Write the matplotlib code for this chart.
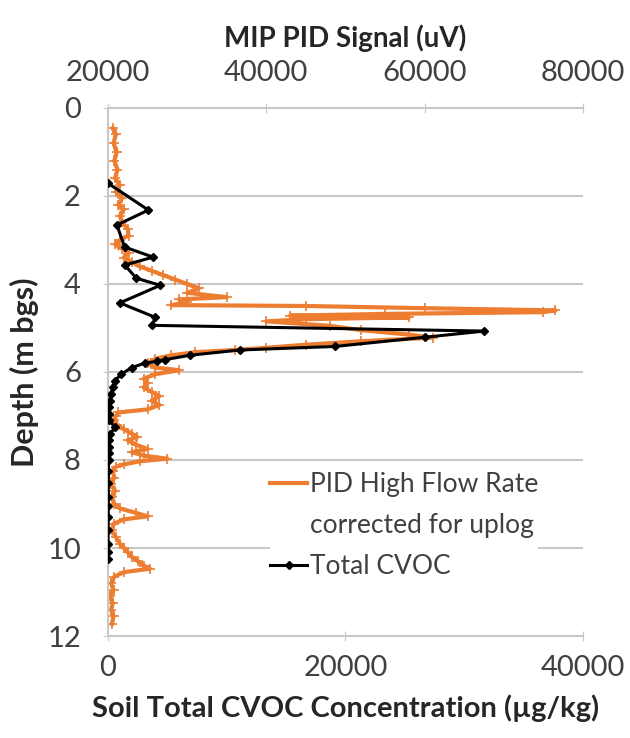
import matplotlib.pyplot as plt
from matplotlib.lines import Line2D

plt.rcParams['font.family'] = ['Lato', 'DejaVu Sans']

# PID signal (top axis, uV) vs depth (m bgs)
pid_depth = [0.46, 0.6, 0.8, 1.0, 1.2, 1.4, 1.6, 1.75, 1.9, 2.05, 2.2, 2.3, 2.45, 2.6,
             2.75, 2.9, 3.0, 3.1, 3.2, 3.3, 3.4, 3.5, 3.6, 3.7, 3.8, 3.9, 4.0, 4.1,
             4.2, 4.3, 4.35, 4.42, 4.48, 4.5, 4.55, 4.6, 4.64, 4.68, 4.72, 4.76, 4.8,
             4.85, 4.95, 5.05, 5.15, 5.22, 5.3, 5.38, 5.45, 5.5, 5.55, 5.62, 5.7, 5.8,
             5.9, 5.96, 6.05, 6.15, 6.25, 6.35, 6.45, 6.55, 6.65, 6.75, 6.85, 6.92,
             7.0, 7.1, 7.2, 7.3, 7.4, 7.48, 7.55, 7.65, 7.75, 7.82, 7.9, 7.97, 8.03,
             8.1, 8.15, 8.25, 8.4, 8.55, 8.7, 8.85, 9.0, 9.1, 9.2, 9.28, 9.35, 9.45,
             9.6, 9.75, 9.9, 10.0, 10.1, 10.2, 10.3, 10.4, 10.47, 10.55, 10.65, 10.8,
             10.95, 11.1, 11.25, 11.4, 11.55, 11.72]
pid_signal = [20600, 21000, 20700, 21100, 20800, 21200, 20900, 21500, 21000, 21800,
              21300, 22000, 21500, 21800, 22500, 22600, 21500, 20900, 21800, 22600,
              22000, 23000, 24000, 25500, 27000, 28500, 30000, 31500, 30000, 35000,
              29000, 30000, 28000, 45000, 60000, 76500, 75000, 55000, 43000, 58000,
              45000, 40000, 48000, 52000, 58000, 61000, 52000, 45000, 40000, 36000,
              31000, 28000, 26000, 25000, 26000, 29000, 26000, 24500, 25000, 24500,
              25500, 26500, 25500, 26500, 25000, 21300, 21000, 20700, 21200, 22000,
              23000, 23700, 22500, 23500, 25000, 23000, 24500, 27500, 24000, 22000,
              21000, 20600, 20800, 20400, 20900, 20500, 20800, 21500, 23500, 25000,
              22000, 20700, 20500, 21000, 21500, 22000, 22500, 23000, 23800, 24500,
              25300, 22000, 20800, 20400, 20700, 20300, 20600, 20400, 20700, 20500]

# Soil total CVOC (bottom axis, ug/kg) vs depth
cvoc_depth = [1.71, 2.32, 2.66, 3.16, 3.39, 3.57, 3.87, 4.03, 4.43, 4.76, 4.94, 5.07,
              5.21, 5.42, 5.50, 5.62, 5.72, 5.76, 5.80, 5.90, 6.05, 6.2, 6.35, 6.5,
              6.65, 6.8, 6.95, 7.1, 7.26, 7.4, 7.55, 7.7, 7.85, 8.0, 8.24, 8.53, 8.85,
              9.05, 9.3, 9.6, 9.9, 10.1, 10.24]
cvoc_conc = [0, 3400, 750, 1400, 3800, 1400, 2400, 4400, 1000, 4000, 3700, 31700,
             26700, 19100, 11100, 6900, 4800, 4100, 3100, 2000, 1100, 600, 400, 250,
             150, 100, 80, 100, 600, 200, 100, 80, 60, 50, 40, 30, 30, 20, 20, 10, 10,
             0, 0]

depth_ticks = [0, 2, 4, 6, 8, 10, 12]
pid_ticks = [20000, 40000, 60000, 80000]
cvoc_ticks = [0, 20000, 40000]

grey = '#c8c8c8'
txt = '#404040'
orange = '#ED7D31'

fig = plt.figure(figsize=(6.3, 7.38), dpi=100)
ax = fig.add_axes([0.1714, 0.1382, 0.754, 0.7155])
ax2 = ax.twiny()

# orange on the lower axes (top scale), black above it (bottom scale)
ax.plot(pid_signal, pid_depth, color=orange, lw=3, marker='+', ms=7, mew=1.2)
ax2.plot(cvoc_conc, cvoc_depth, color='black', lw=2.2, marker='D', ms=4.5)

ax.set_xlim(20000, 80000)
ax2.set_xlim(0, 40000)
ax.set_ylim(12, 0)
ax.set_yticks(depth_ticks)
ax.set_xticks(pid_ticks)
ax2.set_xticks(cvoc_ticks)

ax.xaxis.tick_top()
ax.xaxis.set_label_position('top')
ax2.xaxis.tick_bottom()
ax2.xaxis.set_label_position('bottom')

ax.grid(axis='y', color=grey, lw=1.5)
ax.set_axisbelow(True)

for s in ['left', 'top', 'bottom']:
    ax.spines[s].set_color(grey)
    ax.spines[s].set_linewidth(1.5)
ax.spines['right'].set_visible(False)
for s in ax2.spines.values():
    s.set_visible(False)

ax.tick_params(axis='x', direction='inout', length=7, color=grey, pad=12,
               labelsize=21, labelcolor=txt)
ax.tick_params(axis='y', direction='inout', length=7, color=grey, pad=16,
               labelsize=21, labelcolor=txt)
ax2.tick_params(axis='x', direction='inout', length=7, color=grey, pad=10,
                labelsize=21, labelcolor=txt)

ax.set_xlabel('MIP PID Signal (uV)', fontsize=20, fontweight='bold', color='#262626',
              labelpad=10)
ax2.set_xlabel('Soil Total CVOC Concentration (\u00b5g/kg)', fontsize=21,
               fontweight='bold', color='#262626', labelpad=10)
ax.set_ylabel('Depth (m bgs)', fontsize=22, fontweight='bold', color='#262626',
              labelpad=6)

handles = [Line2D([], [], color=orange, lw=3),
           Line2D([], [], color='none'),
           Line2D([], [], color='black', lw=2.2, marker='D', ms=4.5)]
labels = ['PID High Flow Rate', 'corrected for uplog', 'Total CVOC']
ax2.legend(handles, labels, loc='upper left',
           bbox_to_anchor=(257 / 630, 1 - 459 / 738),
           bbox_transform=fig.transFigure, fontsize=19, frameon=True,
           facecolor='white', edgecolor='none', framealpha=1,
           handlelength=1.4, handletextpad=0.1, labelspacing=0.6,
           borderpad=0.0, labelcolor=txt)

fig.savefig('out.png', dpi=100)
